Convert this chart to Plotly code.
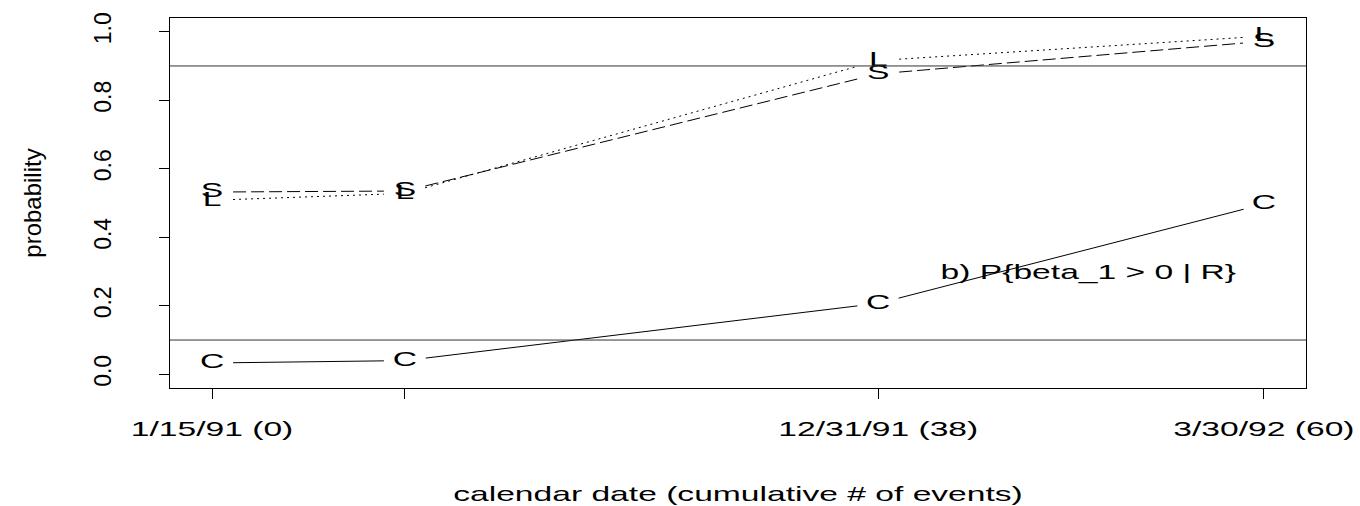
import math
import plotly.graph_objects as go

# ---- data ----
x_events = [0, 11, 38, 60]
x_tick_labels = ["1/15/91 (0)", "", "12/31/91 (38)", "3/30/92 (60)"]
s_vals = [0.532, 0.535, 0.877, 0.972]
l_vals = [0.508, 0.528, 0.916, 0.987]
c_vals = [0.033, 0.040, 0.207, 0.497]
y_tick_vals = [0.0, 0.2, 0.4, 0.6, 0.8, 1.0]
y_tick_labels = ["0.0", "0.2", "0.4", "0.6", "0.8", "1.0"]
ref_lines = [0.1, 0.9]
note_text = "b) P{beta_1 > 0 | R}"
note_pos = (50, 0.30)

# ---- layout geometry ----
W, H = 1360, 506
ML, MR, MT, MB = 170, 54, 13, 118
PW, PH = W - ML - MR, H - MT - MB
xr = [-2.4, 62.4]
yr = [-0.04, 1.04]
FONT = "Liberation Sans, Arial, Helvetica, sans-serif"

ppx = PW / (xr[1] - xr[0])
ppy = PH / (yr[1] - yr[0])


def gapped(xs, ys, gap=21.0):
    ox, oy = [], []
    for i in range(len(xs) - 1):
        dx = (xs[i + 1] - xs[i]) * ppx
        dy = (ys[i + 1] - ys[i]) * ppy
        d = math.hypot(dx, dy)
        if d <= 2 * gap:
            continue
        f = gap / d
        ox += [xs[i] + (xs[i + 1] - xs[i]) * f, xs[i + 1] - (xs[i + 1] - xs[i]) * f, None]
        oy += [ys[i] + (ys[i + 1] - ys[i]) * f, ys[i + 1] - (ys[i + 1] - ys[i]) * f, None]
    return ox, oy


fig = go.Figure()
series = [
    ("S", s_vals, "13px,5px"),
    ("L", l_vals, "2px,4px"),
    ("C", c_vals, "solid"),
]
for name, vals, dash in series:
    gx, gy = gapped(x_events, vals)
    fig.add_trace(go.Scatter(x=gx, y=gy, mode="lines",
                             line=dict(color="black", width=1, dash=dash),
                             hoverinfo="skip", showlegend=False))
for name, vals, dash in series:
    fig.add_trace(go.Scatter(x=x_events, y=vals, mode="text",
                             text=[name] * len(vals), textposition="middle center",
                             textfont=dict(family=FONT, size=21, color="black"),
                             showlegend=False, hoverinfo="skip"))

for yv in ref_lines:
    fig.add_shape(type="line", xref="paper", x0=0, x1=1, yref="y", y0=yv, y1=yv,
                  line=dict(color="#333333", width=1))

fig.add_annotation(x=note_pos[0], y=note_pos[1], xref="x", yref="y", text=note_text,
                   showarrow=False, xanchor="center", yanchor="middle",
                   font=dict(family=FONT, size=21, color="black"))
fig.add_annotation(x=0.5, y=(PH + MT - 495) / PH, xref="paper", yref="paper",
                   text="calendar date (cumulative # of events)", showarrow=False,
                   xanchor="center", yanchor="middle",
                   font=dict(family=FONT, size=21, color="black"))
fig.add_annotation(x=(31.7 - ML) / PW, y=0.5, xref="paper", yref="paper",
                   text="probability", showarrow=False, textangle=-90,
                   xanchor="center", yanchor="middle",
                   font=dict(family=FONT, size=24, color="black"))

fig.update_layout(
    width=W, height=H,
    margin=dict(l=ML, r=MR, t=MT, b=MB, pad=0),
    plot_bgcolor="white", paper_bgcolor="white",
    showlegend=False,
    xaxis=dict(range=xr, tickmode="array", tickvals=x_events, ticktext=x_tick_labels,
               ticks="outside", ticklen=10, tickcolor="black", tickwidth=1,
               showline=True, mirror=True, linecolor="black", linewidth=1,
               showgrid=False, zeroline=False, ticklabelstandoff=12,
               tickfont=dict(family=FONT, size=21, color="black")),
    yaxis=dict(range=yr, tickmode="array", tickvals=y_tick_vals, ticktext=y_tick_labels,
               ticks="outside", ticklen=10, tickcolor="black", tickwidth=1,
               showline=True, mirror=True, linecolor="black", linewidth=1,
               showgrid=False, zeroline=False, tickangle=-90, ticklabelstandoff=39,
               tickfont=dict(family=FONT, size=23, color="black")),
)

post = """
(function(){
  document.body.style.margin = '0';
  document.body.style.padding = '0';
  document.documentElement.style.overflow = 'hidden';
  var gd = document.getElementById('{plot_id}');
  function stretch(){
    var els = gd.querySelectorAll('.xtick text, .textpoint text, .annotation-text');
    els.forEach(function(el){
      if (el.textContent === 'probability') return;
      if (el.getAttribute('data-stretched')) return;
      var w = el.getComputedTextLength();
      if (!w) return;
      el.setAttribute('textLength', (w * 1.6).toFixed(1));
      el.setAttribute('lengthAdjust', 'spacingAndGlyphs');
      el.setAttribute('data-stretched', '1');
    });
  }
  try { stretch(); } catch(e) {}
  setTimeout(stretch, 0);
  if (gd && gd.on) gd.on('plotly_afterplot', function(){ setTimeout(stretch, 0); });
})();
"""

fig.write_html("out.html", post_script=post, config={"displayModeBar": False})
